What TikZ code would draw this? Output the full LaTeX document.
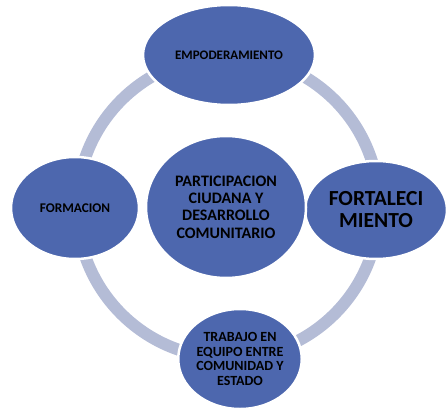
\documentclass[tikz,border=0pt]{standalone}
\usepackage{fontspec}
\setmainfont{Carlito}
\usetikzlibrary{shapes.geometric}
\definecolor{ringc}{HTML}{B4BCD6}
\definecolor{ellc}{HTML}{4D67AE}
\begin{document}
\begin{tikzpicture}[x=1pt,y=-1pt,
  bub/.style={ellipse, fill=ellc, draw=white, line width=2.5pt, inner sep=0pt, align=center},
]
\useasboundingbox (0,0) rectangle (446,409);
\draw[ringc, line width=12pt] (228,207) circle [radius=151];
\node[bub, minimum width=172, minimum height=100, font=\bfseries\fontsize{13}{15}\selectfont] (top) at (229,55) {EMPODERAMIENTO};
\node[bub, minimum width=142, minimum height=98, font=\bfseries\fontsize{21.5}{22}\selectfont] (right) at (376,210) {FORTALECI\\MIENTO};
\node[bub, minimum width=120, minimum height=100, font=\bfseries\fontsize{14}{14.8}\selectfont] (bottom) at (240,359) {TRABAJO EN\\EQUIPO ENTRE\\COMUNIDAD Y\\ESTADO};
\node[bub, minimum width=128, minimum height=102, font=\bfseries\fontsize{13.3}{15}\selectfont] (left) at (75,208) {FORMACION};
\node[bub, minimum width=160, minimum height=142, font=\bfseries\fontsize{16}{17.4}\selectfont] (center) at (226,207) {PARTICIPACION\\CIUDANA Y\\DESARROLLO\\COMUNITARIO};
\end{tikzpicture}
\end{document}
